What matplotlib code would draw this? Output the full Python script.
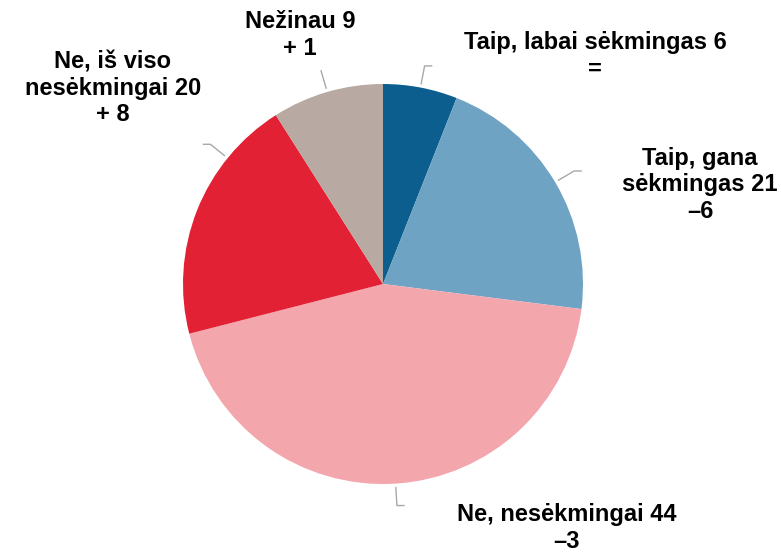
import numpy as np
import matplotlib
matplotlib.use("Agg")
import matplotlib.pyplot as plt

categories = ["Taip, labai sėkmingas", "Taip, gana\nsėkmingas", "Ne, nesėkmingai",
              "Ne, iš viso\nnesėkmingai", "Nežinau"]
values = [6, 21, 44, 20, 9]
changes = ["=", "–6", "–3", "+ 8", "+ 1"]
colors = ["#0b5e8e", "#6ea3c4", "#f4a6ad", "#e32135", "#b8aaa2"]

W, H = 781, 553
fig = plt.figure(figsize=(W / 100, H / 100), dpi=100)
ax = fig.add_axes([0, 0, 1, 1])

cx, cy, R = 383, H - 284, 200
wedges, _ = ax.pie(values, colors=colors, startangle=90, counterclock=False,
                   center=(cx, cy), radius=R, frame=True,
                   wedgeprops=dict(linewidth=0))
ax.set_xlim(0, W)
ax.set_ylim(0, H)
ax.set_aspect("equal")
ax.axis("off")

# label placement (pixel centres) and leader-line angles (deg clockwise from top)
label_pos = [(595, 56), (700, 185), (567, 528), (113, 88), (300, 35)]
leader_ang = [10.8, 59.4, 176.4, 309.0, 343.8]
leader_tail = [(1, 0), (1, 0), (1, 0), (-1, 0), (0, 0)]

for cat, v, ch, (lx, ly), a, tail in zip(categories, values, changes, label_pos,
                                          leader_ang, leader_tail):
    ax.text(lx, H - ly, f"{cat} {v}\n{ch}", ha="center", va="center",
            fontsize=17, fontweight="bold", family="Liberation Sans",
            linespacing=1.17, color="black")
    t = np.deg2rad(a)
    x0, y0 = cx + R * 1.02 * np.sin(t), cy + R * 1.02 * np.cos(t)
    x1, y1 = cx + R * 1.11 * np.sin(t), cy + R * 1.11 * np.cos(t)
    xs, ys = [x0, x1], [y0, y1]
    if tail != (0, 0):
        xs.append(x1 + 7 * tail[0])
        ys.append(y1)
    ax.plot(xs, ys, color="#a8a8a8", lw=1)

fig.savefig("out.png", dpi=100)
